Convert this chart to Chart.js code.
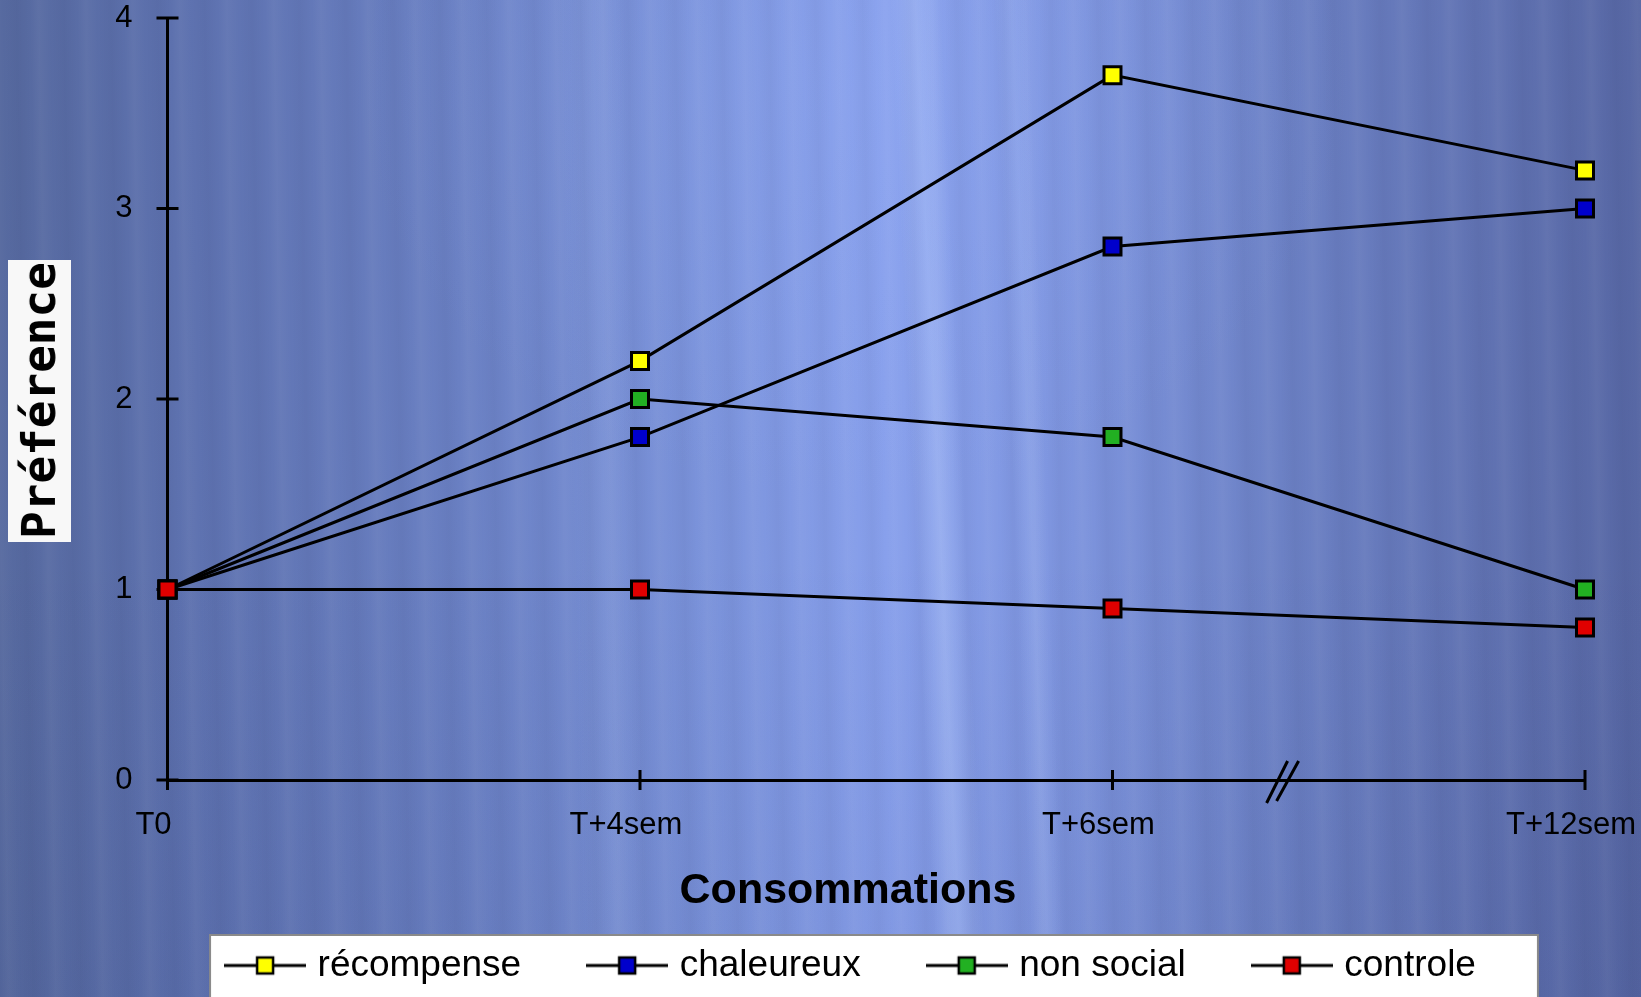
<!DOCTYPE html>
<html>
<head>
<meta charset="utf-8">
<script src="https://cdn.jsdelivr.net/npm/chart.js@4.4.1/dist/chart.umd.min.js"></script>
<style>
    html, body {
        margin: 0;
        padding: 0;
    }
    body {
        width: 1641px;
        height: 997px;
        overflow: hidden;
        position: relative;
        font-family: "Liberation Sans", Arial, sans-serif;
        background:
            linear-gradient(87.3deg, rgba(255,255,255,0) 55.5%, rgba(190,210,255,0.30) 57%, rgba(255,255,255,0) 58.5%),
            linear-gradient(87.8deg, rgba(255,255,255,0) 61.5%, rgba(190,210,255,0.16) 62.5%, rgba(255,255,255,0) 63.5%),
            linear-gradient(88.5deg, rgba(255,255,255,0) 35%, rgba(190,210,255,0.10) 37%, rgba(255,255,255,0) 39%),
            repeating-linear-gradient(89deg, rgba(255,255,255,0) 0px, rgba(255,255,255,0.04) 9px, rgba(255,255,255,0) 21px, rgba(0,0,40,0.035) 34px, rgba(255,255,255,0) 47px),
            radial-gradient(ellipse 500px 420px at 52% 8%, rgba(150,175,250,0.25), rgba(150,175,250,0)),
            linear-gradient(180deg, rgba(0,0,0,0) 55%, rgba(10,20,70,0.06) 100%),
            linear-gradient(90deg, #56699f 0%, #5e72b0 12%, #6a80c3 28%, #7b93db 43%, #88a0ec 54%, #7f96e0 64%, #6c81c5 78%, #6173b3 90%, #5767a4 100%);
    }
    #wrap {
        position: absolute;
        left: 0;
        top: 0;
        width: 1641px;
        height: 997px;
    }
    #yTitle {
        position: absolute;
        left: 8px;
        top: 260px;
        width: 63px;
        height: 282px;
        background: #f8f8f8;
        writing-mode: vertical-rl;
        transform: rotate(180deg);
        display: flex;
        align-items: center;
        justify-content: center;
        font-family: "DejaVu Sans Mono", monospace;
        font-weight: bold;
        font-size: 46px;
        color: #000;
    }
    #xTitle {
        position: absolute;
        left: 848px;
        top: 867px;
        transform: translateX(-50%);
        font-family: "Liberation Sans", Arial, sans-serif;
        font-weight: bold;
        font-size: 43px;
        line-height: 1;
        color: #000;
        white-space: nowrap;
    }
</style>
</head>
<body>
<div id="wrap"><canvas id="prefChart"></canvas></div>
<div id="yTitle">Préférence</div>
<div id="xTitle">Consommations</div>
<script>
// Data
const categories = ['T0', 'T+4sem', 'T+6sem', 'T+12sem'];
const recompense = [1, 2.2, 3.7, 3.2];
const chaleureux = [1, 1.8, 2.8, 3.0];
const nonSocial = [1, 2.0, 1.8, 1.0];
const controle = [1, 1.0, 0.9, 0.8];
const seriesNames = ['récompense', 'chaleureux', 'non social', 'controle'];
const seriesColors = ['#ffff00', '#0000cc', '#22b022', '#e00000'];
const yMin = 0;
const yMax = 4;
const yStep = 1;

const seriesValues = [recompense, chaleureux, nonSocial, controle];

// Small line + square icon for each legend entry
function makeLegendIcon(color) {
    const c = document.createElement('canvas');
    c.width = 82;
    c.height = 24;
    const g = c.getContext('2d');
    g.strokeStyle = '#000';
    g.lineWidth = 3;
    g.beginPath();
    g.moveTo(0, 12);
    g.lineTo(82, 12);
    g.stroke();
    g.fillStyle = color;
    g.lineWidth = 2.5;
    g.fillRect(33, 4, 16, 16);
    g.strokeRect(33, 4, 16, 16);
    return c;
}
const legendIcons = seriesColors.map(makeLegendIcon);

// Crossing tick marks and the axis break "//"
const axisMarks = {
    id: 'axisMarks',
    beforeDatasetsDraw(chart) {
        const { ctx, chartArea, scales: { x, y } } = chart;
        ctx.save();
        ctx.strokeStyle = '#000';
        ctx.lineWidth = 3;
        ctx.beginPath();
        y.ticks.forEach((t, i) => {
            const py = y.getPixelForTick(i);
            ctx.moveTo(chartArea.left - 11, py);
            ctx.lineTo(chartArea.left + 11, py);
        });
        x.ticks.forEach((t, i) => {
            const px = x.getPixelForTick(i);
            ctx.moveTo(px, chartArea.bottom - 10);
            ctx.lineTo(px, chartArea.bottom + 10);
        });
        ctx.stroke();

        const x6 = x.getPixelForValue(2);
        const x12 = x.getPixelForValue(3);
        const bx = x6 + 0.36 * (x12 - x6);
        const by = chartArea.bottom;
        ctx.lineWidth = 3;
        ctx.beginPath();
        ctx.moveTo(bx - 16, by + 23);
        ctx.lineTo(bx + 5, by - 19);
        ctx.moveTo(bx - 6, by + 21);
        ctx.lineTo(bx + 16, by - 19);
        ctx.stroke();
        ctx.restore();
    }
};

// White framed box behind the legend
const legendFrame = {
    id: 'legendFrame',
    beforeDraw(chart) {
        const lg = chart.legend;
        if (!lg || !lg.legendHitBoxes || !lg.legendHitBoxes.length) return;
        const hb = lg.legendHitBoxes;
        const last = hb[hb.length - 1];
        const left = hb[0].left - 21;
        const right = last.left + last.width + 62;
        const top = hb[0].top - 12;
        const ctx = chart.ctx;
        ctx.save();
        ctx.fillStyle = '#ffffff';
        ctx.fillRect(left, top, right - left, chart.height - top + 10);
        ctx.strokeStyle = '#8a8a8a';
        ctx.lineWidth = 2;
        ctx.strokeRect(left, top, right - left, chart.height - top + 10);
        ctx.restore();
    }
};

const datasets = seriesNames.map((name, i) => ({
    label: name,
    data: seriesValues[i],
    borderColor: '#000',
    borderWidth: 3,
    tension: 0,
    pointStyle: 'rect',
    pointRadius: 12,
    pointHoverRadius: 12,
    pointBorderWidth: 3,
    pointBorderColor: '#000',
    pointBackgroundColor: seriesColors[i],
    fill: false,
    order: name === 'controle' ? 0 : i + 1
}));

const ctx = document.getElementById('prefChart').getContext('2d');
const chart = new Chart(ctx, {
    type: 'line',
    data: {
        labels: categories,
        datasets: datasets
    },
    options: {
        responsive: true,
        maintainAspectRatio: false,
        animation: false,
        events: [],
        layout: {
            padding: { left: 95, right: 29, top: 18, bottom: 3 }
        },
        plugins: {
            tooltip: { enabled: false },
            legend: {
                position: 'bottom',
                labels: {
                    usePointStyle: true,
                    pointStyleWidth: 68,
                    padding: 72,
                    color: '#000',
                    font: { family: '"Liberation Sans", Arial, sans-serif', size: 37 },
                    generateLabels: (c) => c.data.datasets.map((ds, i) => ({
                        text: ds.label,
                        pointStyle: legendIcons[i],
                        fillStyle: seriesColors[i],
                        strokeStyle: '#000',
                        lineWidth: 0,
                        hidden: false,
                        fontColor: '#000',
                        datasetIndex: i
                    }))
                }
            }
        },
        scales: {
            x: {
                type: 'category',
                offset: false,
                grid: { display: false, drawTicks: false },
                border: { display: true, color: '#000', width: 3 },
                ticks: {
                    color: '#000',
                    padding: 27,
                    labelOffset: -14,
                    autoSkip: false,
                    maxRotation: 0,
                    font: { family: '"Liberation Sans", Arial, sans-serif', size: 31 }
                },
                afterFit: (s) => {
                    s.height = 95;
                    s.paddingLeft = 0;
                    s.paddingRight = 0;
                }
            },
            y: {
                min: yMin,
                max: yMax,
                grid: { display: false, drawTicks: false },
                border: { display: true, color: '#000', width: 3 },
                ticks: {
                    stepSize: yStep,
                    color: '#000',
                    padding: 35,
                    font: { family: '"Liberation Sans", Arial, sans-serif', size: 31 }
                },
                afterFit: (s) => {
                    s.width = 72.5;
                    s.paddingTop = 0;
                    s.paddingBottom = 0;
                }
            },
            // empty spacer on the right so the plot ends where the reference does
            yRight: {
                position: 'right',
                grid: { display: false, drawTicks: false },
                border: { display: false },
                ticks: { display: false },
                afterFit: (s) => {
                    s.width = 27;
                    s.paddingTop = 0;
                    s.paddingBottom = 0;
                }
            }
        }
    },
    plugins: [legendFrame, axisMarks]
});
</script>
</body>
</html>
